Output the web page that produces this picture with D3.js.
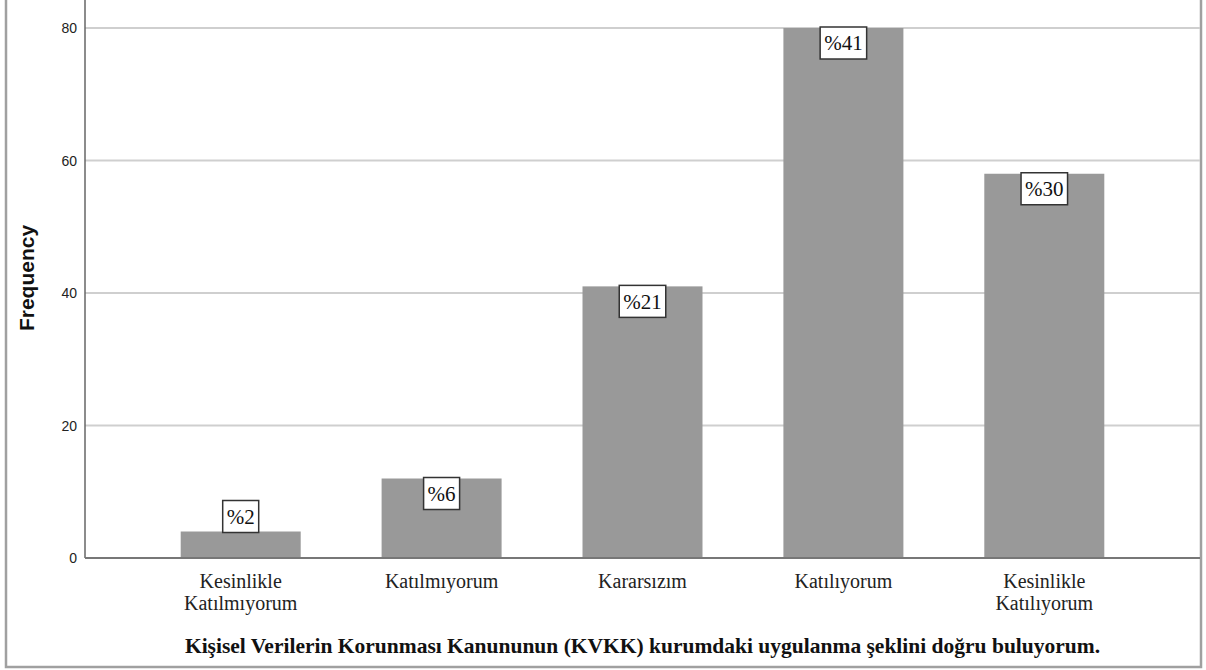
<!DOCTYPE html>
<meta charset="utf-8">
<script src="https://d3js.org/d3.v7.min.js"></script>
<style>
  body { margin: 0; background: #fff; }
</style>
<svg id="chart"></svg>
<script>

// chart values
let categories = ["Kesinlikle Katılmıyorum", "Katılmıyorum", "Kararsızım", "Katılıyorum", "Kesinlikle Katılıyorum"];
let tick_lines = [["Kesinlikle", "Katılmıyorum"], ["Katılmıyorum"], ["Kararsızım"], ["Katılıyorum"], ["Kesinlikle", "Katılıyorum"]];
let frequencies = [4, 12, 41, 80, 58];
let percent_labels = ["%2", "%6", "%21", "%41", "%30"];
let y_ticks = [0, 20, 40, 60, 80];
let y_title = "Frequency";
let x_title = "Kişisel Verilerin Korunması Kanununun (KVKK) kurumdaki uygulanma şeklini doğru buluyorum.";

let svg = d3.select("#chart"),
    width = 1206,
    height = 670;

svg.attr("width", width).attr("height", height);

let plot = { left: 85, right: 1200, top: 0, bottom: 558 };

// scales
let x = d3.scalePoint()
    .domain(categories)
    .range([plot.left, plot.right])
    .padding(0.775);

let y = d3.scaleLinear()
    .domain([0, 80])
    .range([plot.bottom, 28]);

let bar_width = 120;

// outer frame
svg.append("rect")
    .attr("x", 6).attr("y", -4)
    .attr("width", 1195).attr("height", 671)
    .attr("fill", "none")
    .attr("stroke", "#a0a0a0")
    .attr("stroke-width", 2.5);

// grid lines
svg.append("g")
  .selectAll("line")
  .data(y_ticks.filter(d => d > 0))
  .enter()
    .append("line")
      .attr("x1", plot.left).attr("x2", plot.right)
      .attr("y1", d => y(d)).attr("y2", d => y(d))
      .attr("stroke", "#cfcfcf")
      .attr("stroke-width", 2);

// bars
svg.append("g")
  .selectAll("rect")
  .data(frequencies)
  .enter()
    .append("rect")
      .attr("x", (d, i) => x(categories[i]) - bar_width / 2)
      .attr("y", d => y(d))
      .attr("width", bar_width)
      .attr("height", d => y(0) - y(d))
      .attr("fill", "#999999");

// axes lines
svg.append("line")
    .attr("x1", plot.left).attr("x2", plot.left)
    .attr("y1", plot.top).attr("y2", plot.bottom)
    .attr("stroke", "#666")
    .attr("stroke-width", 1.5);

svg.append("line")
    .attr("x1", plot.left).attr("x2", plot.right)
    .attr("y1", plot.bottom).attr("y2", plot.bottom)
    .attr("stroke", "#777")
    .attr("stroke-width", 2);

// y tick labels
svg.append("g")
  .selectAll("text")
  .data(y_ticks)
  .enter()
    .append("text")
      .attr("x", 77)
      .attr("y", d => y(d))
      .attr("dy", "0.36em")
      .attr("text-anchor", "end")
      .style("font-family", "'Liberation Sans', Arial, sans-serif")
      .style("font-size", "14px")
      .style("fill", "#222")
      .text(d => d);

// y title
svg.append("text")
    .attr("transform", "translate(34,278) rotate(-90)")
    .attr("text-anchor", "middle")
    .style("font-family", "'Liberation Sans', Arial, sans-serif")
    .style("font-size", "21px")
    .style("font-weight", "bold")
    .style("fill", "#111")
    .text(y_title);

// x tick labels
let xt = svg.append("g")
  .selectAll("text")
  .data(tick_lines)
  .enter()
    .append("text")
      .attr("text-anchor", "middle")
      .style("font-family", "'Liberation Serif', 'Times New Roman', serif")
      .style("font-size", "20px")
      .style("fill", "#222");

xt.selectAll("tspan")
  .data((d, i) => d.map(t => ({ t: t, i: i })))
  .enter()
    .append("tspan")
      .attr("x", d => x(categories[d.i]))
      .attr("y", (d, j) => 588 + j * 21.5)
      .text(d => d.t);

// x title
svg.append("text")
    .attr("x", (plot.left + plot.right) / 2)
    .attr("y", 653)
    .attr("text-anchor", "middle")
    .style("font-family", "'Liberation Serif', 'Times New Roman', serif")
    .style("font-size", "21.5px")
    .style("font-weight", "bold")
    .style("fill", "#111")
    .text(x_title);

// percent labels in boxes
let box_h = 32;
let labels = svg.append("g")
  .selectAll("g")
  .data(frequencies)
  .enter()
    .append("g");

labels.each(function(d, i) {
  let g = d3.select(this);
  let cx = x(categories[i]);
  let top = y(d);
  let inside = (y(0) - top) > box_h;
  let by = inside ? top - 1 : top - box_h + 1;
  let txt = g.append("text")
      .attr("x", cx)
      .attr("y", by + box_h / 2)
      .attr("dy", "0.35em")
      .attr("text-anchor", "middle")
      .style("font-family", "'Liberation Serif', 'Times New Roman', serif")
      .style("font-size", "21px")
      .style("fill", "#111")
      .text(percent_labels[i]);
  let w = txt.node().getComputedTextLength() + 8;
  g.insert("rect", "text")
      .attr("x", cx - w / 2)
      .attr("y", by)
      .attr("width", w)
      .attr("height", box_h)
      .attr("fill", "#fff")
      .attr("stroke", "#333")
      .attr("stroke-width", 1.5);
});

</script>
